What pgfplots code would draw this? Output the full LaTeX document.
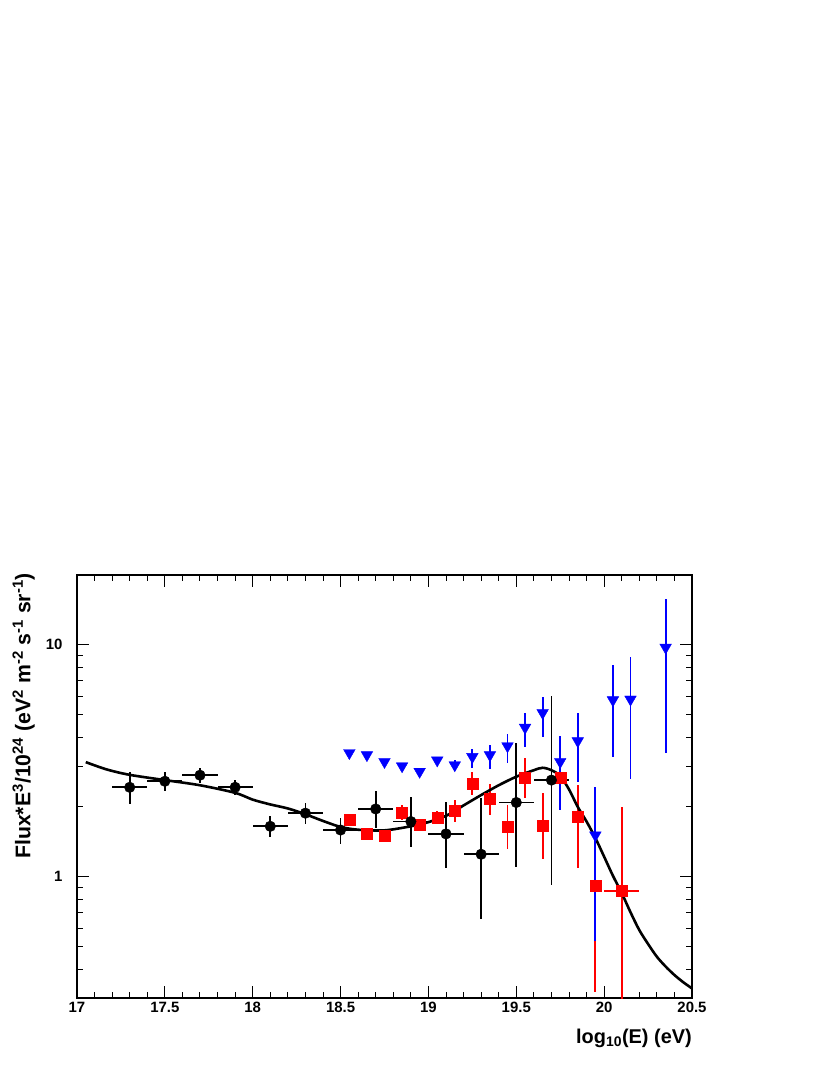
\documentclass[border=0pt]{standalone}
\usepackage{fontspec}
\setmainfont{Liberation Sans}
\usepackage{pgfplots}
\usepackage{pgfplotstable}
\pgfplotsset{compat=1.18}

% black circles: x y ex eyp eym
\pgfplotstableread{
x y ex eyp eym
17.3 2.43 0.1 0.41 0.38
17.5 2.58 0.1 0.26 0.24
17.7 2.74 0.1 0.21 0.21
17.9 2.43 0.1 0.18 0.18
18.1 1.65 0.1 0.17 0.17
18.3 1.88 0.1 0.19 0.20
18.5 1.59 0.1 0.21 0.21
18.7 1.96 0.1 0.38 0.33
18.9 1.73 0.1 0.47 0.38
19.1 1.53 0.1 0.57 0.44
19.3 1.25 0.1 0.93 0.59
19.5 2.09 0.1 1.69 0.99
19.7 2.61 0.1 3.40 1.69
}\blackdata

% red squares
\pgfplotstableread{
x y ex eyp eym
18.55 1.77 0 0.05 0.05
18.65 1.53 0 0.04 0.04
18.75 1.51 0 0.04 0.04
18.85 1.895 0 0.15 0.14
18.95 1.68 0 0.10 0.10
19.05 1.80 0 0.12 0.12
19.15 1.925 0 0.21 0.20
19.25 2.53 0 0.31 0.28
19.35 2.16 0 0.35 0.31
19.45 1.64 0 0.40 0.32
19.55 2.68 0 0.56 0.50
19.65 1.66 0 0.63 0.47
19.75 2.68 0 0.55 0.74
19.85 1.81 0 0.68 0.72
19.95 0.912 0 0.60 0.593
20.1 0.87 0.1 1.13 0.67
}\reddata

% blue triangles
\pgfplotstableread{
x y eyp eym
18.55 3.42 0 0
18.65 3.35 0 0
18.75 3.13 0 0
18.85 3.00 0 0
18.95 2.84 0.05 0.05
19.05 3.18 0.05 0.05
19.15 3.03 0.15 0.15
19.25 3.29 0.28 0.36
19.35 3.35 0.35 0.45
19.45 3.66 0.46 0.57
19.55 4.40 0.66 0.79
19.65 5.09 0.89 1.09
19.75 3.13 0.91 1.19
19.85 3.85 1.24 1.30
19.95 1.51 0.93 0.98
20.05 5.78 2.40 2.51
20.15 5.82 3.01 3.17
20.35 9.74 5.96 6.32
}\bluedata

% fit curve
\pgfplotstableread{
x y
17.05 3.12
17.17 2.90
17.3 2.75
17.5 2.61
17.7 2.48
17.9 2.30
18.0 2.15
18.1 2.05
18.2 1.97
18.3 1.86
18.4 1.74
18.5 1.64
18.6 1.595
18.75 1.585
18.9 1.65
19.0 1.72
19.1 1.83
19.2 2.03
19.3 2.25
19.4 2.48
19.5 2.70
19.6 2.88
19.65 2.95
19.7 2.88
19.75 2.72
19.8 2.38
19.85 2.00
19.9 1.73
19.95 1.47
20.0 1.22
20.05 1.01
20.1 0.851
20.15 0.703
20.2 0.589
20.25 0.513
20.3 0.452
20.35 0.410
20.4 0.377
20.45 0.351
20.5 0.330
}\curvedata

\begin{document}
\begin{tikzpicture}
\useasboundingbox (-77bp,-77bp) rectangle (753bp,998bp);
\begin{axis}[
  scale only axis, width=615bp, height=423bp,
  xmin=17, xmax=20.5, ymode=log, ymin=0.3, ymax=20,
  axis line style={line width=1.1bp},
  every tick/.style={line width=1bp, black},
  tick align=inside,
  major tick length=12bp, minor tick length=6bp,
  xtick={17,17.5,18,18.5,19,19.5,20,20.5},
  xticklabels={17,17.5,18,18.5,19,19.5,20,20.5},
  minor xtick={17.1,17.2,17.3,17.4,17.6,17.7,17.8,17.9,18.1,18.2,18.3,18.4,18.6,18.7,18.8,18.9,19.1,19.2,19.3,19.4,19.6,19.7,19.8,19.9,20.1,20.2,20.3,20.4},
  ytick={1,10}, yticklabels={1,10},
  minor ytick={0.4,0.5,0.6,0.7,0.8,0.9,2,3,4,5,6,7,8,9,20},
  ticklabel style={font=\fontsize{15}{17}\selectfont\bfseries},
  xticklabel style={yshift=-1bp},
  yticklabel style={xshift=-11bp},
  xlabel={log\textsubscript{10}(E) (eV)},
  xlabel style={at={(axis description cs:1,-0.1064)}, anchor=base east, inner sep=0pt,
    font=\fontsize{20}{22}\selectfont\bfseries},
  ylabel={Flux*E\textsuperscript{3}/10\textsuperscript{24} (eV\textsuperscript{2} m\textsuperscript{-2} s\textsuperscript{-1} sr\textsuperscript{-1})},
  ylabel style={at={(axis description cs:-0.0683,1.005)}, anchor=south east, inner sep=0pt,
    font=\fontsize{21.3}{23}\selectfont\bfseries},
  clip=true,
]
% red squares
\addplot[only marks, mark=square*, mark size=5.5bp, color=red,
  error bars/.cd, x dir=both, x explicit, y dir=both, y explicit,
  error mark=none, error bar style={line width=1.8bp, red}]
  table[x=x, y=y, x error=ex, y error plus=eyp, y error minus=eym]{\reddata};
% blue triangles
\addplot[only marks, mark=triangle*, mark size=6.7bp, color=blue,
  mark options={rotate=180},
  error bars/.cd, y dir=both, y explicit,
  error mark=none, error bar style={line width=1.8bp, blue}]
  table[x=x, y=y, y error plus=eyp, y error minus=eym]{\bluedata};
% black circles
\addplot[only marks, mark=*, mark size=5.3bp, color=black,
  error bars/.cd, x dir=both, x explicit, y dir=both, y explicit,
  error mark=none, error bar style={line width=1.7bp, black}]
  table[x=x, y=y, x error=ex, y error plus=eyp, y error minus=eym]{\blackdata};
% curve
\addplot[black, line width=2.6bp, smooth, no marks] table[x=x, y=y]{\curvedata};
\end{axis}
\end{tikzpicture}
\end{document}
